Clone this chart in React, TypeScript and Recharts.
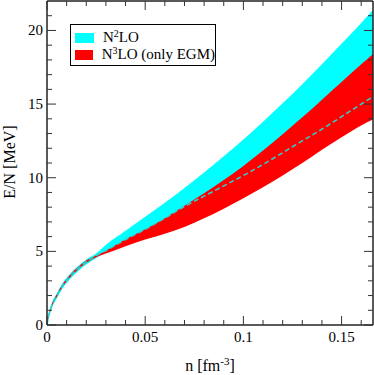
import React from "react";
import { ComposedChart, Area, Line, XAxis, YAxis, Legend, Label } from "recharts";

// density n [fm^-3]
const density = [
  0, 0.001, 0.0025, 0.005, 0.0075, 0.01, 0.015, 0.02, 0.025, 0.03, 0.04, 0.05,
  0.06, 0.07, 0.08, 0.09, 0.1, 0.11, 0.12, 0.13, 0.14, 0.15, 0.16, 0.166,
];

// N2LO band (lower edge is mostly hidden under the N3LO band)
const n2loLower = [
  0, 0.5, 1.15, 1.8, 2.4, 2.85, 3.55, 4.1, 4.55, 4.95, 5.7, 6.4, 7.1, 7.9,
  8.6, 9.3, 10.0, 10.75, 11.55, 12.35, 13.15, 14.0, 14.85, 15.35,
];
const n2loUpper = [
  0.1, 0.85, 1.5, 2.15, 2.75, 3.2, 3.9, 4.45, 4.85, 5.45, 6.4, 7.35, 8.3,
  9.3, 10.35, 11.45, 12.6, 13.8, 15.05, 16.35, 17.7, 19.1, 20.5, 21.4,
];

// N3LO (only EGM) band
const n3loLower = [
  0, 0.62, 1.27, 1.92, 2.52, 2.97, 3.67, 4.22, 4.6, 4.85, 5.35, 5.8, 6.2,
  6.65, 7.25, 7.9, 8.6, 9.35, 10.15, 11.0, 11.9, 12.75, 13.55, 13.95,
];
const n3loUpper = [
  0.08, 0.78, 1.43, 2.08, 2.68, 3.13, 3.83, 4.38, 4.72, 5.05, 5.82, 6.5,
  7.25, 8.1, 8.95, 9.85, 10.8, 11.85, 12.95, 14.1, 15.3, 16.5, 17.7, 18.4,
];

// dashed N2LO curve
const n2loDashed = [
  0, 0.7, 1.35, 2.0, 2.6, 3.05, 3.75, 4.3, 4.72, 5.05, 5.8, 6.5, 7.25, 8.05,
  8.75, 9.45, 10.15, 10.9, 11.7, 12.5, 13.3, 14.15, 15.0, 15.5,
];

const xTicks = [
  0, 0.01, 0.02, 0.03, 0.04, 0.05, 0.06, 0.07, 0.08, 0.09, 0.1, 0.11, 0.12,
  0.13, 0.14, 0.15, 0.16,
];
const xMajor = [0, 0.05, 0.1, 0.15];
const yTicks = [
  0, 1, 2, 3, 4, 5, 6, 7, 8, 9, 10, 11, 12, 13, 14, 15, 16, 17, 18, 19, 20, 21,
];
const yMajor = [0, 5, 10, 15, 20];

const legendItems = [
  { base: "N", sup: "2", rest: "LO", color: "#00ffff" },
  { base: "N", sup: "3", rest: "LO (only EGM)", color: "#ff0000" },
];

const rows = density.map((n, i) => ({
  n,
  n2lo: [n2loLower[i], n2loUpper[i]],
  n3lo: [n3loLower[i], n3loUpper[i]],
  dashed: n2loDashed[i],
}));

const SERIF = "Liberation Serif";
const TICK = "#333";

const isMajor = (v: number, majors: number[]) =>
  majors.some((m) => Math.abs(m - v) < 1e-9);

const BottomTick = (props: any) => {
  const { x, y, payload } = props;
  const major = isMajor(payload.value, xMajor);
  return (
    <g>
      <line x1={x} x2={x} y1={y} y2={y - (major ? 9 : 5)} stroke={TICK} />
      {major && (
        <text x={x} y={y + 17} textAnchor="middle" fontFamily={SERIF} fontSize={15} fill="#000">
          {String(payload.value)}
        </text>
      )}
    </g>
  );
};

const TopTick = (props: any) => {
  const { x, y, payload } = props;
  const major = isMajor(payload.value, xMajor);
  return <line x1={x} x2={x} y1={y} y2={y + (major ? 9 : 5)} stroke={TICK} />;
};

const LeftTick = (props: any) => {
  const { x, y, payload } = props;
  const major = isMajor(payload.value, yMajor);
  return (
    <g>
      <line x1={x} x2={x + (major ? 9 : 5)} y1={y} y2={y} stroke={TICK} />
      {major && (
        <text x={x - 4} y={y + 5} textAnchor="end" fontFamily={SERIF} fontSize={15} fill="#000">
          {String(payload.value)}
        </text>
      )}
    </g>
  );
};

const RightTick = (props: any) => {
  const { x, y, payload } = props;
  const major = isMajor(payload.value, yMajor);
  return <line x1={x} x2={x - (major ? 9 : 5)} y1={y} y2={y} stroke={TICK} />;
};

const renderLegend = () => (
  <div
    style={{
      width: 146,
      height: 42,
      boxSizing: "border-box",
      border: "1px solid #000",
      background: "#fff",
      paddingTop: 4,
      fontFamily: SERIF,
      fontSize: 15,
      color: "#000",
    }}
  >
    {legendItems.map((item) => (
      <div key={item.rest} style={{ display: "flex", alignItems: "center", height: 17 }}>
        <span
          style={{
            display: "inline-block",
            width: 19,
            height: 10,
            marginLeft: 4,
            marginRight: 9,
            background: item.color,
          }}
        />
        <span style={{ whiteSpace: "nowrap" }}>
          {item.base}
          <sup style={{ fontSize: 10, verticalAlign: 5, lineHeight: 0 }}>{item.sup}</sup>
          {item.rest}
        </span>
      </div>
    ))}
  </div>
);

export default function App() {
  return (
    <div style={{ position: "absolute", left: 0, top: 0, background: "#fff", fontFamily: SERIF }}>
      <ComposedChart
        width={374}
        height={375}
        data={rows}
        margin={{ top: 0, right: 0, bottom: 0, left: 0 }}
      >
        <XAxis
          xAxisId="bottom"
          type="number"
          dataKey="n"
          domain={[0, 0.166]}
          allowDataOverflow
          ticks={xTicks}
          interval={0}
          height={50}
          tickSize={0}
          tickMargin={0}
          tickLine={false}
          tick={<BottomTick />}
          axisLine={{ stroke: "#222", strokeWidth: 1.5 }}
        >
          <Label
            content={(p: any) => {
              const vb = p.viewBox;
              return (
                <text
                  x={vb.x + vb.width / 2}
                  y={vb.y + 46}
                  textAnchor="middle"
                  fontFamily={SERIF}
                  fontSize={16}
                  fill="#000"
                >
                  n [fm
                  <tspan dy={-6} fontSize={11}>-3</tspan>
                  <tspan dy={6}>]</tspan>
                </text>
              );
            }}
          />
        </XAxis>
        <XAxis
          xAxisId="top"
          orientation="top"
          type="number"
          dataKey="n"
          domain={[0, 0.166]}
          allowDataOverflow
          ticks={xTicks}
          interval={0}
          height={1}
          tickSize={0}
          tickMargin={0}
          tickLine={false}
          tick={<TopTick />}
          axisLine={{ stroke: "#222", strokeWidth: 1.5 }}
        />
        <YAxis
          yAxisId="left"
          type="number"
          domain={[0, 22]}
          allowDataOverflow
          ticks={yTicks}
          interval={0}
          width={47}
          tickSize={0}
          tickMargin={0}
          tickLine={false}
          tick={<LeftTick />}
          axisLine={{ stroke: "#222", strokeWidth: 1.5 }}
        >
          <Label
            content={() => (
              <text
                x={15}
                y={162}
                transform="rotate(-90 15 162)"
                textAnchor="middle"
                fontFamily={SERIF}
                fontSize={16}
                fill="#000"
              >
                E/N [MeV]
              </text>
            )}
          />
        </YAxis>
        <YAxis
          yAxisId="right"
          orientation="right"
          type="number"
          domain={[0, 22]}
          allowDataOverflow
          ticks={yTicks}
          interval={0}
          width={1}
          tickSize={0}
          tickMargin={0}
          tickLine={false}
          tick={<RightTick />}
          axisLine={{ stroke: "#222", strokeWidth: 1.5 }}
        />
        <Legend
          layout="vertical"
          align="center"
          verticalAlign="middle"
          content={renderLegend}
          wrapperStyle={{ left: 70, top: 24, width: 146 }}
        />
        <Area
          xAxisId="bottom"
          yAxisId="left"
          type="monotone"
          dataKey="n2lo"
          name="N2LO"
          stroke="none"
          fill="#00ffff"
          fillOpacity={1}
          isAnimationActive={false}
        />
        <Area
          xAxisId="bottom"
          yAxisId="left"
          type="monotone"
          dataKey="n3lo"
          name="N3LO (only EGM)"
          stroke="none"
          fill="#ff0000"
          fillOpacity={1}
          isAnimationActive={false}
        />
        <Line
          xAxisId="top"
          yAxisId="right"
          type="monotone"
          dataKey="dashed"
          stroke="#2ad4d4"
          strokeWidth={1.5}
          strokeDasharray="5 3"
          dot={false}
          legendType="none"
          isAnimationActive={false}
        />
      </ComposedChart>
    </div>
  );
}
